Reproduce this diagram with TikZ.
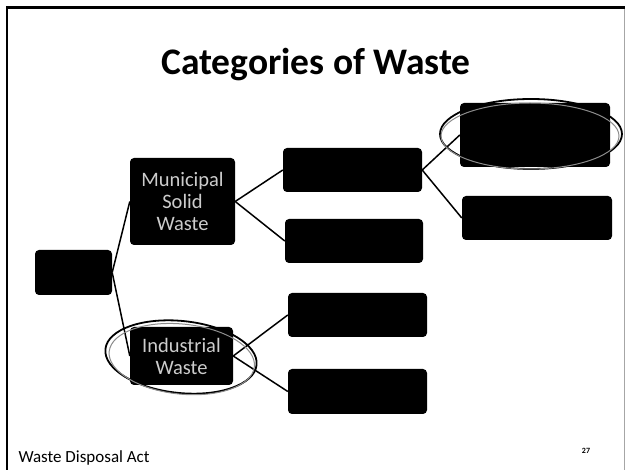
\documentclass[tikz,border=0pt]{standalone}
\usepackage{fontspec}
\setmainfont{Carlito}
\begin{document}
\begin{tikzpicture}[x=1pt,y=-1pt,
  wbox/.style={fill=black,rounded corners=4pt,inner sep=0pt,draw=none,
    text=white!80!black,font=\fontsize{20.5}{22}\selectfont,align=center,
    append after command={
      \pgfextra{\draw[white!75!black,densely dotted,line width=0.8pt]
        ([xshift=3pt,yshift=-5pt]\tikzlastnode.north west) --
        ([xshift=3pt,yshift=5pt]\tikzlastnode.south west);}}},
  conn/.style={draw=black,line width=1.5pt},
  ring/.style={draw=black,line width=1.8pt},
  ring2/.style={draw=black!45,line width=1pt}]
\useasboundingbox (0,0) rectangle (625,470);
% frame
\draw[line width=2.6pt] (7,470) -- (7,7.5) -- (625,7.5);
\draw[black!35,line width=0.8pt] (624,9) -- (624,470);
% title
\node[anchor=base,font=\fontsize{37.5}{40}\bfseries\selectfont] (title) at (316,75) {Categories of Waste};
% boxes
\node[wbox,minimum width=77pt,minimum height=45pt] (root) at (73.5,272.5) {};
\node[wbox,minimum width=105pt,minimum height=87pt] (muni) at (182.5,201.5) {Municipal\\Solid\\Waste};
\node[wbox,minimum width=103pt,minimum height=58pt] (ind) at (181.5,356) {Industrial\\Waste};
\node[wbox,minimum width=139pt,minimum height=44pt] (b1) at (352.5,170) {};
\node[wbox,minimum width=138pt,minimum height=44pt] (b2) at (354,241) {};
\node[wbox,minimum width=139pt,minimum height=44pt] (b3) at (357.5,315) {};
\node[wbox,minimum width=139pt,minimum height=45pt] (b4) at (357.5,391.5) {};
\node[wbox,minimum width=150pt,minimum height=64pt] (tr) at (535,135) {};
\node[wbox,minimum width=150pt,minimum height=44pt] (r2) at (537,218) {};
% connectors
\draw[conn] (root.east) -- (muni.west);
\draw[conn] (root.east) -- (ind.west);
\draw[conn] (muni.east) -- (b1.west);
\draw[conn] (muni.east) -- (b2.west);
\draw[conn] (ind.east) -- (b3.west);
\draw[conn] (ind.east) -- (b4.west);
\draw[conn] (b1.east) -- (tr.west);
\draw[conn] (b1.east) -- (r2.west);
% hand-drawn rings
\draw[ring] (531,134) ellipse [x radius=91, y radius=35];
\draw[ring2] (530,136) ellipse [x radius=89, y radius=33];
\draw[ring,rotate around={-6:(181,357)}] (181,357) ellipse [x radius=76, y radius=36];
\draw[ring2,rotate around={-6:(181,357)}] (182,359) ellipse [x radius=73, y radius=35];
% footer
\node[anchor=base west,font=\fontsize{17}{19}\selectfont] (foot) at (15,463) {Waste Disposal Act};
\node[anchor=base,font=\fontsize{8}{9}\bfseries\selectfont] (pg) at (586,454) {27};
\end{tikzpicture}
\end{document}
